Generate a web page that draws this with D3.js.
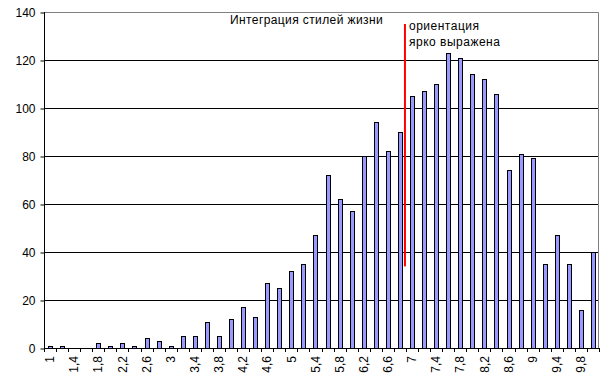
<!DOCTYPE html>
<html>
<head>
<meta charset="utf-8">
<script src="https://cdn.jsdelivr.net/npm/d3@7/dist/d3.min.js"></script>
<style>
  html, body { margin: 0; padding: 0; background: #fff; }
  svg { display: block; }
  text { font-family: "Liberation Sans", Arial, sans-serif; fill: #000; }
</style>
</head>
<body>
<div id="chart"></div>
<script>
const categories = [1, 1.2, 1.4, 1.6, 1.8, 2, 2.2, 2.4, 2.6, 2.8,
  3, 3.2, 3.4, 3.6, 3.8, 4, 4.2, 4.4, 4.6, 4.8,
  5, 5.2, 5.4, 5.6, 5.8, 6, 6.2, 6.4, 6.6, 6.8,
  7, 7.2, 7.4, 7.6, 7.8, 8, 8.2, 8.4, 8.6, 8.8,
  9, 9.2, 9.4, 9.6, 9.8, 10];
const values = [1, 1, 0, 0, 2, 1, 2, 1, 4, 3,
  1, 5, 5, 11, 5, 12, 17, 13, 27, 25,
  32, 35, 47, 72, 62, 57, 80, 94, 82, 90,
  105, 107, 110, 123, 121, 114, 112, 106, 74, 81,
  79, 35, 47, 35, 16, 40];
const xTickLabels = ["1", "1,4", "1,8", "2,2", "2,6", "3", "3,4", "3,8", "4,2", "4,6",
  "5", "5,4", "5,8", "6,2", "6,6", "7", "7,4", "7,8", "8,2", "8,6", "9", "9,4", "9,8"];
const yTicks = [0, 20, 40, 60, 80, 100, 120, 140];
const titleText = "Интеграция стилей жизни";
const noteLines = ["ориентация", "ярко выражена"];
const markerBoundary = 7;      // red line drawn at the boundary before category 7
const markerRange = [34, 135]; // red line extent in value units

(function () {
const W = 601, H = 389;
const pl = 44, pr = 599, pt = 12, pb = 348;

const svg = d3.select("#chart").append("svg").attr("width", W).attr("height", H);

const x = d3.scaleBand().domain(categories).range([pl, pr]).paddingInner(0).paddingOuter(0);
const y = d3.scaleLinear().domain([0, 140]).range([pb, pt]);
const bw = x.bandwidth();

// gridlines
svg.append("g").selectAll("line").data(yTicks.filter(v => v > 0 && v < 140)).join("line")
  .attr("x1", pl).attr("x2", pr)
  .attr("y1", d => Math.round(y(d)) + 0.5).attr("y2", d => Math.round(y(d)) + 0.5)
  .attr("stroke", "#000").attr("stroke-width", 1);

// plot border top & right (gray)
svg.append("path")
  .attr("d", `M${pl},${pt + 0.5}H${pr - 0.5}V${pb}`)
  .attr("fill", "none").attr("stroke", "#808080").attr("stroke-width", 1);

// bars
svg.append("g").selectAll("rect").data(categories).join("rect")
  .attr("x", (d) => Math.round(x(d) + bw / 2 - 2) + 0.5)
  .attr("width", 4)
  .attr("y", (d, i) => Math.round(y(values[i])) + 0.5)
  .attr("height", (d, i) => Math.max(0, Math.round(pb) - Math.round(y(values[i]))))
  .attr("fill", "#9999FF").attr("stroke", "#000").attr("stroke-width", 1);

// y axis
const yAxis = d3.axisLeft(y).tickValues(yTicks).tickSize(4).tickPadding(5).tickFormat(d3.format("d"));
const gy = svg.append("g").attr("transform", `translate(${pl + 0.5},0.5)`).call(yAxis);
gy.select(".domain").remove();
gy.selectAll(".tick line").attr("stroke", "#000");
gy.selectAll(".tick text").attr("font-size", 12).attr("font-family", "Liberation Sans, Arial, sans-serif").attr("fill", "#000").attr("dy", "0.32em");
svg.append("line").attr("x1", pl + 0.5).attr("x2", pl + 0.5).attr("y1", pt).attr("y2", pb + 4)
  .attr("stroke", "#000");

// x axis
svg.append("line").attr("x1", pl).attr("x2", pr).attr("y1", pb + 0.5).attr("y2", pb + 0.5).attr("stroke", "#000");
const bounds = categories.map(c => x(c)).concat([pr]);
svg.append("g").selectAll("line").data(bounds).join("line")
  .attr("x1", d => Math.round(d) + 0.5).attr("x2", d => Math.round(d) + 0.5)
  .attr("y1", pb).attr("y2", pb + 4)
  .attr("stroke", "#000");
const labelCats = categories.filter((c, i) => i % 2 === 0);
svg.append("g").selectAll("text").data(labelCats).join("text")
  .attr("transform", (d) => `translate(${x(d) + bw / 2},${pb + 8}) rotate(-90)`)
  .attr("text-anchor", "end").attr("dy", "0.35em")
  .attr("font-size", 12)
  .text((d, i) => xTickLabels[i]);

// red marker line
const mx = x(markerBoundary);
svg.append("line").attr("x1", mx - 1).attr("x2", mx - 1)
  .attr("y1", y(markerRange[1])).attr("y2", y(markerRange[0]))
  .attr("stroke", "#FF0000").attr("stroke-width", 2);

// annotations
svg.append("text").attr("x", 230).attr("y", 24).attr("font-size", 12)
  .attr("letter-spacing", "0.4px").text(titleText);
svg.append("g").selectAll("text").data(noteLines).join("text")
  .attr("x", 409).attr("y", (d, i) => 30 + i * 16).attr("font-size", 12)
  .attr("letter-spacing", "0.5px").text(d => d);
})();
</script>
</body>
</html>
